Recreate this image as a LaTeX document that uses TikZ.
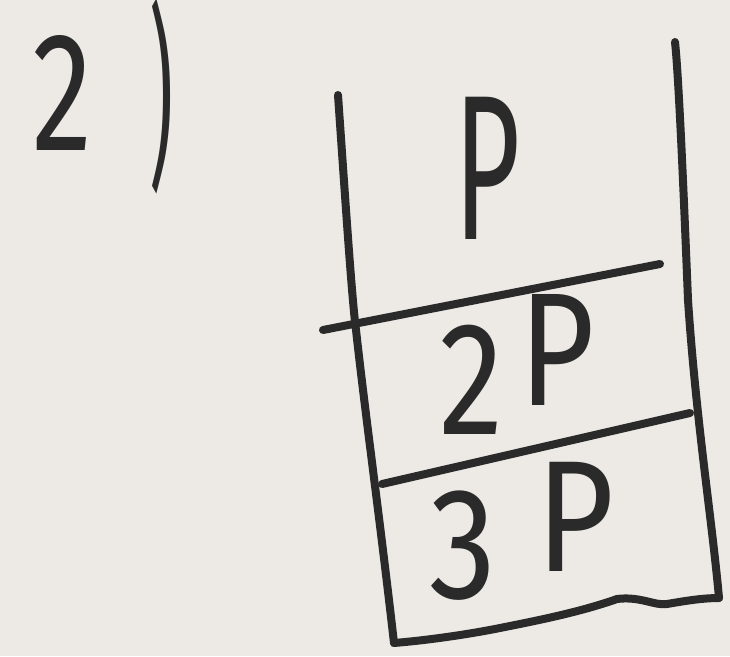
\documentclass[tikz,border=0pt]{standalone}
\usepackage{fontspec}
\setmainfont{Fira Sans}
\usepackage{graphicx}
\definecolor{paper}{HTML}{EDEAE6}
\definecolor{pen}{HTML}{2A2A2A}
\begin{document}
\begin{tikzpicture}[x=1pt,y=-1pt,
  ink/.style={line width=8pt, line cap=round, line join=round, draw=pen},
  txt/.style={inner sep=0pt, outer sep=0pt, text=pen, anchor=center}]
\fill[paper] (0,0) rectangle (730,656);
\useasboundingbox (0,0) rectangle (730,656);
% item label "2)"
\node[txt] (num) at (63,93) {\resizebox*{60pt}{115pt}{2}};
\node[txt] (par) at (162,96) {\resizebox*{24pt}{195pt}{)}};
% walls
\coordinate (lt) at (338,95);
\coordinate (lb) at (394,643);
\coordinate (rt) at (675,42);
\coordinate (rb) at (719,598);
\draw[ink] (lt) .. controls (346,210) and (352,300) .. (356,330)
  .. controls (366,420) and (380,520) .. (lb);
\draw[ink] (rt) .. controls (678,70) and (682,150) .. (688,300)
  .. controls (696,420) and (712,520) .. (rb);
\draw[ink] (lb) .. controls (430,640) and (470,634) .. (500,628)
  .. controls (540,620) and (580,612) .. (617,599)
  .. controls (640,596) and (655,606) .. (667,604)
  .. controls (690,600) and (705,598) .. (rb);
% dividers
\coordinate (a1) at (323,330);
\coordinate (a2) at (660,264);
\coordinate (b1) at (382,484);
\coordinate (b2) at (690,413);
\draw[ink] (a1) -- (a2);
\draw[ink] (b1) -- (b2);
% labels
\node[txt] (p1) at (488,168) {\resizebox*{66pt}{142pt}{P}};
\node[txt] (p2) at (517,364) {\resizebox*{155pt}{140pt}{2\hspace{0.12em}\raisebox{0.18em}{P}}};
\node[txt] (p3) at (522,531) {\resizebox*{185pt}{138pt}{3\hspace{0.3em}\raisebox{0.17em}{P}}};
\end{tikzpicture}
\end{document}
